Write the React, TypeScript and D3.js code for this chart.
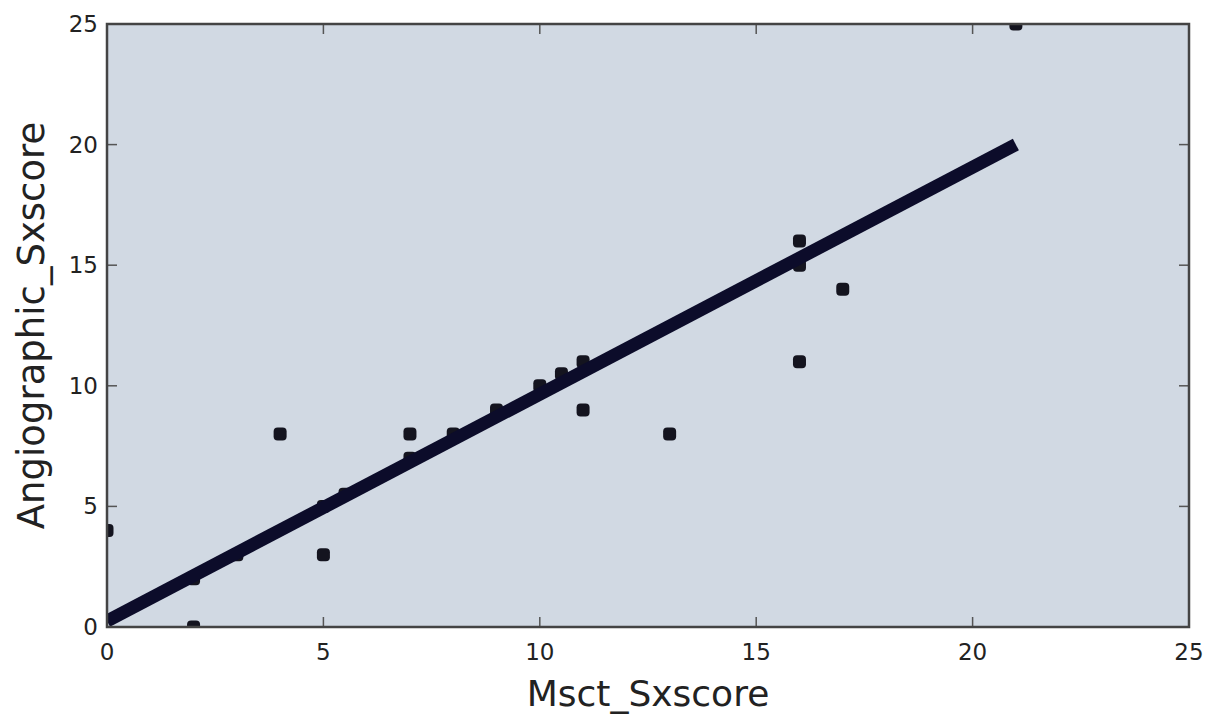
import React from "react";
import * as d3 from "d3";

const msct: number[] = [0, 2, 2, 3, 4, 5, 5, 5.5, 7, 7, 8, 9, 10, 10.5, 11, 11, 13, 16, 16, 16, 17, 21];
const angio: number[] = [4, 0, 2, 3, 8, 5, 3, 5.5, 7, 8, 8, 9, 10, 10.5, 11, 9, 8, 16, 15, 11, 14, 25];
const fitX: number[] = [0, 21];
const fitY: number[] = [0.25, 20];
const xTicks: number[] = [0, 5, 10, 15, 20, 25];
const yTicks: number[] = [0, 5, 10, 15, 20, 25];

const W = 1213;
const H = 718;
const L = 107, R = 1189, T = 24, B = 627;

export default function App() {
  const x = d3.scaleLinear().domain([0, 25]).range([L, R]);
  const y = d3.scaleLinear().domain([0, 25]).range([B, T]);
  const line = d3.line<number>().x((d, i) => x(fitX[i])).y((d, i) => y(fitY[i]));
  const font = "'DejaVu Sans', sans-serif";
  const tickLen = 10;
  const ms = 13;
  return (
    <svg width={W} height={H} style={{ position: "absolute", left: 0, top: 0, background: "#fff" }}>
      <defs>
        <clipPath id="plot">
          <rect x={L} y={T} width={R - L} height={B - T} />
        </clipPath>
      </defs>
      <rect x={L} y={T} width={R - L} height={B - T} fill="#d1d9e3" />
      <g clipPath="url(#plot)">
        {msct.map((v, i) => (
          <rect key={i} x={x(v) - ms / 2} y={y(angio[i]) - ms / 2} width={ms} height={ms} rx={4} ry={4} fill="#14141f" />
        ))}
        <path d={line(fitX) || ""} stroke="#0c0c2a" strokeWidth={13} fill="none" />
      </g>
      {xTicks.map((t) => (
        <g key={"x" + t}>
          <line x1={x(t)} x2={x(t)} y1={B} y2={B - tickLen} stroke="#555" strokeWidth={1.5} />
          <line x1={x(t)} x2={x(t)} y1={T} y2={T + tickLen} stroke="#555" strokeWidth={1.5} />
          <text x={x(t)} y={660} textAnchor="middle" fontFamily={font} fontSize={23} fill="#222">{t}</text>
        </g>
      ))}
      {yTicks.map((t) => (
        <g key={"y" + t}>
          <line x1={L} x2={L + tickLen} y1={y(t)} y2={y(t)} stroke="#555" strokeWidth={1.5} />
          <line x1={R} x2={R - tickLen} y1={y(t)} y2={y(t)} stroke="#555" strokeWidth={1.5} />
          <text x={98} y={y(t) + 8} textAnchor="end" fontFamily={font} fontSize={23} fill="#222">{t}</text>
        </g>
      ))}
      <rect x={L} y={T} width={R - L} height={B - T} fill="none" stroke="#444" strokeWidth={2.5} />
      <text x={(L + R) / 2} y={706} textAnchor="middle" fontFamily={font} fontSize={36} fill="#222">Msct_Sxscore</text>
      <text transform={`translate(44, ${(T + B) / 2}) rotate(-90)`} textAnchor="middle" fontFamily={font} fontSize={37} fill="#222">Angiographic_Sxscore</text>
    </svg>
  );
}
